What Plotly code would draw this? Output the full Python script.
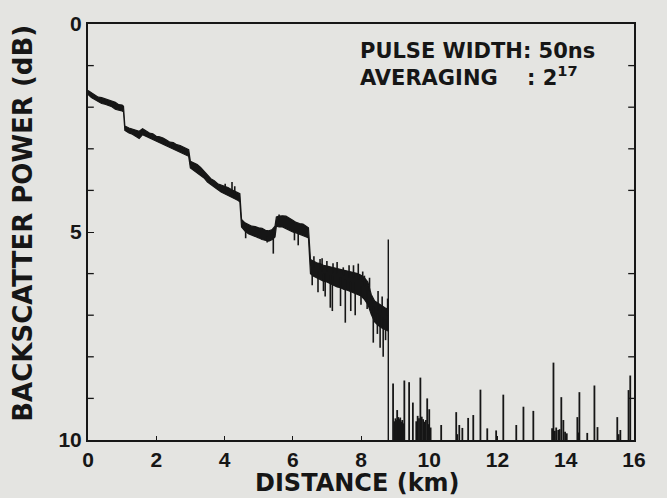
import plotly.graph_objects as go

# ---- OTDR backscatter trace ----
# band of the averaged trace: distance (km), upper and lower edge (dB)
dist_km = [0.00, 0.10, 0.20, 0.30, 0.40, 0.50, 0.60, 0.70, 0.80, 0.90, 1.00, 1.04,
           1.08, 1.20, 1.30, 1.40, 1.50, 1.60, 1.70, 1.80, 1.90, 2.00, 2.10, 2.20,
           2.30, 2.40, 2.50, 2.60, 2.70, 2.80, 2.90, 2.95, 3.00, 3.10, 3.20, 3.30,
           3.40, 3.50, 3.60, 3.70, 3.80, 3.90, 4.00, 4.10, 4.20, 4.30, 4.40, 4.45,
           4.50, 4.60, 4.70, 4.80, 4.90, 5.00, 5.10, 5.20, 5.30, 5.40, 5.48, 5.52,
           5.60, 5.70, 5.80, 5.90, 6.00, 6.10, 6.20, 6.30, 6.40, 6.46, 6.52, 6.60,
           6.70, 6.80, 6.90, 7.00, 7.10, 7.20, 7.30, 7.40, 7.50, 7.60, 7.70, 7.80,
           7.90, 8.00, 8.10, 8.20, 8.30, 8.40, 8.50, 8.60, 8.70, 8.80]
upper_db = [1.60, 1.66, 1.70, 1.76, 1.77, 1.80, 1.83, 1.86, 1.88, 1.94, 1.95, 1.98,
            2.45, 2.50, 2.53, 2.56, 2.58, 2.52, 2.57, 2.62, 2.64, 2.70, 2.71, 2.74,
            2.79, 2.84, 2.85, 2.90, 2.92, 2.96, 2.99, 3.02, 3.30, 3.34, 3.38, 3.45,
            3.54, 3.61, 3.72, 3.77, 3.84, 3.87, 3.90, 3.93, 3.98, 4.03, 4.06, 4.08,
            4.70, 4.78, 4.83, 4.86, 4.87, 4.90, 4.91, 4.96, 4.97, 4.94, 4.86, 4.64,
            4.62, 4.61, 4.62, 4.66, 4.72, 4.77, 4.80, 4.81, 4.86, 4.90, 5.66, 5.70,
            5.74, 5.76, 5.80, 5.82, 5.84, 5.86, 5.88, 5.90, 5.92, 5.94, 5.96, 5.98,
            6.00, 6.04, 6.10, 6.20, 6.50, 6.66, 6.72, 6.76, 6.82, 6.86]
lower_db = [1.69, 1.77, 1.83, 1.87, 1.91, 1.93, 1.95, 1.99, 2.05, 2.07, 2.09, 2.11,
            2.56, 2.62, 2.65, 2.69, 2.75, 2.66, 2.70, 2.74, 2.78, 2.82, 2.86, 2.90,
            2.94, 2.98, 3.02, 3.05, 3.08, 3.12, 3.16, 3.18, 3.46, 3.54, 3.58, 3.64,
            3.70, 3.80, 3.88, 3.92, 3.98, 4.04, 4.08, 4.12, 4.16, 4.20, 4.24, 4.28,
            4.88, 4.98, 5.04, 5.08, 5.10, 5.14, 5.18, 5.20, 5.22, 5.18, 5.12, 4.86,
            4.88, 4.88, 4.92, 4.96, 5.00, 5.02, 5.06, 5.08, 5.12, 5.14, 6.00, 6.06,
            6.10, 6.14, 6.18, 6.20, 6.24, 6.28, 6.32, 6.34, 6.38, 6.40, 6.44, 6.46,
            6.50, 6.54, 6.62, 6.74, 6.98, 7.16, 7.24, 7.30, 7.34, 7.38]

# noise excursions on the trace: distance, where they leave the band, tip (dB)
excursion_km = [5.25, 5.43, 6.16, 6.05, 4.62, 6.57, 6.74, 6.90, 6.95, 7.10, 7.16,
                7.40, 7.54, 7.70, 7.83, 8.00, 8.18, 8.36, 8.48, 8.56, 8.65, 8.72,
                4.02, 4.22, 4.30, 5.60, 6.86, 7.18, 7.48, 7.92, 8.50, 8.10,
                6.62, 6.80, 7.00, 7.30, 7.65, 7.78, 8.05, 8.25, 8.62, 8.78]
excursion_base_db = [5.10, 5.05, 5.00, 4.95, 4.90, 5.85, 5.95, 6.00, 6.00, 6.05, 6.05,
                     6.10, 6.15, 6.20, 6.20, 6.30, 6.40, 6.80, 6.95, 7.00, 7.05, 7.10,
                     3.98, 4.06, 4.10, 4.75, 5.95, 6.00, 6.05, 6.15, 6.90, 6.30,
                     5.85, 5.90, 5.95, 6.00, 6.10, 6.10, 6.20, 6.40, 6.95, 7.00]
excursion_tip_db = [5.25, 5.52, 5.32, 5.20, 5.15, 6.28, 6.45, 6.42, 6.55, 6.82, 6.90,
                    6.78, 7.18, 6.90, 7.00, 6.75, 6.85, 7.66, 7.45, 7.78, 8.00, 7.60,
                    3.84, 3.80, 3.90, 4.58, 5.63, 5.75, 5.85, 5.76, 6.42, 6.05,
                    5.58, 5.65, 5.70, 5.72, 5.80, 5.80, 5.95, 6.10, 6.55, 6.60]

# fibre-end reflection
end_km = 8.80
end_top_db = 5.18

# spikes in the noise floor beyond the fibre end
floor_spike_km = [8.94, 9.06, 9.27, 9.41, 9.52, 9.74, 9.94, 10.00, 10.35, 10.79,
                  10.88, 10.97, 11.14, 11.29, 11.50, 11.70, 11.96, 12.17, 12.55,
                  12.76, 13.05, 13.64, 13.87, 13.93, 14.34, 14.40, 14.63, 14.84,
                  14.93, 15.51, 15.60, 15.84, 15.89,
                  8.98, 9.01, 9.04, 9.09, 9.12, 9.15, 9.18, 9.21, 9.24,
                  9.62, 9.66, 9.70, 9.78, 9.82, 9.86, 9.90, 9.97, 10.04,
                  13.60, 13.68, 13.72, 13.78, 13.82, 13.98, 14.03, 10.82, 14.37, 15.55]
floor_spike_db = [8.64, 9.28, 8.57, 8.61, 9.10, 8.50, 9.00, 9.26, 9.64, 9.33,
                  9.64, 9.71, 9.47, 9.40, 8.79, 9.72, 9.77, 8.91, 9.64,
                  9.20, 9.30, 8.14, 8.97, 9.52, 9.45, 8.85, 9.83, 8.69,
                  9.69, 9.45, 9.76, 8.80, 8.45,
                  9.55, 9.48, 9.52, 9.45, 9.50, 9.46, 9.56, 9.52, 9.60,
                  9.55, 9.42, 9.48, 9.44, 9.50, 9.56, 9.52, 9.62, 9.70,
                  9.72, 9.78, 9.70, 9.76, 9.74, 9.80, 9.84, 9.86, 9.82, 9.86]

x_ticks = [0, 2, 4, 6, 8, 10, 12, 14, 16]
y_ticks = [0, 5, 10]
y_minor = [1, 2, 3, 4, 6, 7, 8, 9]

INK = "#161616"
BG = "#e4e4e1"
TXT_FONT = "DejaVu Sans"
NUM_FONT = "Liberation Sans"

fig = go.Figure()

# averaged trace as a filled band
fig.add_trace(go.Scatter(
    x=dist_km + dist_km[::-1],
    y=upper_db + lower_db[::-1],
    fill="toself", fillcolor=INK, mode="lines",
    line=dict(color=INK, width=1.2), hoverinfo="skip", showlegend=False))

# noise excursions off the band
ex_x, ex_y = [], []
for k, b, t in zip(excursion_km, excursion_base_db, excursion_tip_db):
    ex_x += [k, k, None]
    ex_y += [b, t, None]
fig.add_trace(go.Scatter(x=ex_x, y=ex_y, mode="lines",
                         line=dict(color=INK, width=1.6), showlegend=False))

# fibre-end reflection line
fig.add_trace(go.Scatter(x=[end_km, end_km], y=[end_top_db, 10], mode="lines",
                         line=dict(color=INK, width=1.4), showlegend=False))

# floor spikes
fs_x, fs_y = [], []
for k, t in zip(floor_spike_km, floor_spike_db):
    fs_x += [k, k, None]
    fs_y += [10, t, None]
fig.add_trace(go.Scatter(x=fs_x, y=fs_y, mode="lines",
                         line=dict(color=INK, width=1.8), showlegend=False))

# minor ticks on both vertical frame edges
for v in y_minor:
    for side in ("left", "right"):
        x0 = 0 if side == "left" else 16
        fig.add_shape(type="line", xref="x", yref="y",
                      x0=x0, x1=x0 + (0.17 if side == "left" else -0.17),
                      y0=v, y1=v, line=dict(color=INK, width=1.3))

fig.update_xaxes(range=[0, 16], tickvals=x_ticks, ticktext=[str(v) for v in x_ticks],
                 ticks="inside", ticklen=4, tickwidth=1.3, tickcolor=INK,
                 showline=True, linecolor=INK, linewidth=2, mirror=True,
                 showgrid=False, zeroline=False,
                 tickfont=dict(family=NUM_FONT, size=21, color=INK, weight="bold"))
fig.update_yaxes(range=[10, 0], tickvals=y_ticks, ticktext=[str(v) for v in y_ticks],
                 ticks="inside", ticklen=6, tickwidth=1.3, tickcolor=INK,
                 showline=True, linecolor=INK, linewidth=2, mirror=True,
                 showgrid=False, zeroline=False,
                 tickfont=dict(family=NUM_FONT, size=21, color=INK, weight="bold"))

# measurement settings, two lines in one block
fig.add_annotation(
    text="PULSE WIDTH: 50ns<br>AVERAGING    : 2<sup>17</sup>",
    x=0.494, y=0.903, xref="paper", yref="paper", xanchor="left", yanchor="middle",
    align="left", showarrow=False,
    font=dict(family=TXT_FONT, size=21, color=INK, weight="bold"))

fig.add_annotation(text="DISTANCE (km)", x=0.494, y=-0.103, xref="paper", yref="paper",
                   xanchor="center", yanchor="middle", showarrow=False,
                   font=dict(family=TXT_FONT, size=24, color=INK, weight="bold"))
fig.add_annotation(text="BACKSCATTER POWER (dB)", x=-0.119, y=0.52, xref="paper",
                   yref="paper", xanchor="center", yanchor="middle", textangle=-90,
                   showarrow=False, font=dict(family=TXT_FONT, size=26, color=INK,
                                              weight="bold"))

fig.update_layout(width=667, height=498,
                  margin=dict(l=88, r=33, t=21, b=58),
                  paper_bgcolor=BG, plot_bgcolor=BG, showlegend=False)

fig.write_html("out.html")
